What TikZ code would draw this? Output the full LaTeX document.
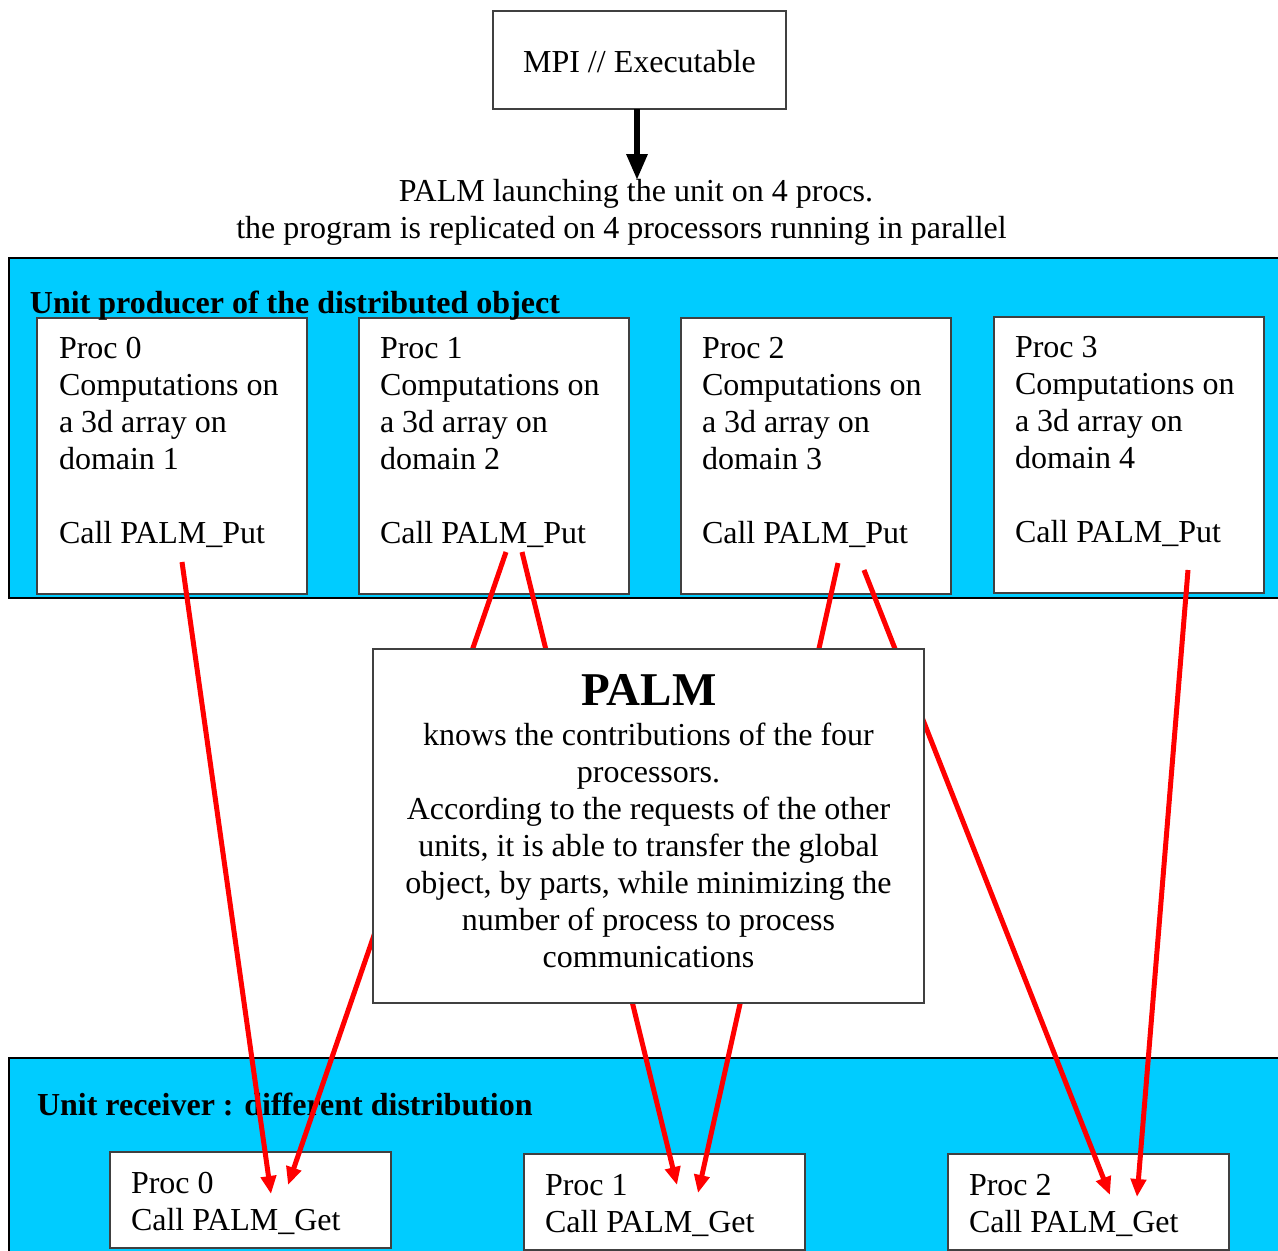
\documentclass[tikz,border=0pt]{standalone}
\usepackage{fontspec}
\setmainfont{Liberation Serif}
\usetikzlibrary{arrows.meta,calc}
\definecolor{bandblue}{HTML}{00CCFF}
\definecolor{boxedge}{HTML}{404040}
\begin{document}
\begin{tikzpicture}[x=1pt,y=-1pt,
  every node/.style={inner sep=0pt,outer sep=0pt},
  body/.style={font=\fontsize{32}{37}\selectfont},
  bodybf/.style={font=\fontsize{32}{37}\selectfont\bfseries},
  txt/.style={body,align=left,anchor=north west},
  band/.style={draw=black,line width=2pt,fill=bandblue,anchor=north west},
  whitebox/.style={draw=boxedge,line width=1.5pt,fill=white,anchor=north west},
  putbox/.style={whitebox,minimum width=270pt,minimum height=276pt},
  getbox/.style={whitebox,minimum width=281pt,minimum height=96pt},
  conn/.style={draw=red,line width=5pt,-{Triangle[length=18pt,width=15pt]}},
  launch/.style={draw=black,line width=6pt,-{Triangle[length=26pt,width=20pt]}}]
\useasboundingbox (0,0) rectangle (1278,1251);
\clip (0,0) rectangle (1278,1251);
\fill[white] (0,0) rectangle (1278,1251);

% executable and launch text
\node[whitebox,minimum width=293pt,minimum height=98pt,body,text height=24pt,text depth=0pt] (mpi) at (493,11) {MPI // Executable};
\node[body,anchor=base] (launch1) at (636,201) {PALM launching the unit on 4 procs.};
\node[body,anchor=base] (launch2) at (621.5,238) {the program is replicated on 4 processors running in parallel};
\draw[launch] (mpi.south -| 637,0) -- (637,180);

% producer unit
\node[band,minimum width=1300pt,minimum height=340pt] (prodband) at (9,258) {};
\node[putbox] (p0) at (37,318) {};
\node[putbox] (p1) at (359,318) {};
\node[putbox] (p2) at (681,318) {};
\node[putbox] (p3) at (994,317) {};
\node[bodybf,anchor=base west] (prodtitle) at (30,313) {Unit producer of the distributed object};
\node[txt] (p0t) at (59,337) {Proc 0\\Computations on\\a 3d array on\\domain 1\\[37pt]Call PALM\_Put};
\node[txt] (p1t) at (380,337) {Proc 1\\Computations on\\a 3d array on\\domain 2\\[37pt]Call PALM\_Put};
\node[txt] (p2t) at (702,337) {Proc 2\\Computations on\\a 3d array on\\domain 3\\[37pt]Call PALM\_Put};
\node[txt] (p3t) at (1015,336) {Proc 3\\Computations on\\a 3d array on\\domain 4\\[37pt]Call PALM\_Put};

% receiver unit
\node[band,minimum width=1300pt,minimum height=220pt] (recband) at (9,1058) {};
\node[getbox] (g0) at (110,1152) {};
\node[getbox] (g1) at (524,1154) {};
\node[getbox] (g2) at (948,1154) {};
\node[bodybf,anchor=base west] (rectitle) at (37,1115) {Unit receiver : different distribution};
\node[txt] (g0t) at (131,1172) {Proc 0\\Call PALM\_Get};
\node[txt] (g1t) at (545,1174) {Proc 1\\Call PALM\_Get};
\node[txt] (g2t) at (969,1174) {Proc 2\\Call PALM\_Get};

% transfer end points
\coordinate (put0) at (182,562);
\coordinate (put1a) at (506,552);
\coordinate (put1b) at (522,552);
\coordinate (put2a) at (838,563);
\coordinate (put2b) at (864,570);
\coordinate (put3) at (1188,570);
\coordinate (get0a) at (271,1194);
\coordinate (get0b) at (288,1185);
\coordinate (get1a) at (677,1185);
\coordinate (get1b) at (698,1193);
\coordinate (get2a) at (1110,1195);
\coordinate (get2b) at (1137,1197);

\draw[conn] (put0) -- (get0a);
\draw[conn] (put1a) -- (get0b);
\draw[conn] (put1b) -- (get1a);
\draw[conn] (put2a) -- (get1b);
\draw[conn] (put2b) -- (get2a);
\draw[conn] (put3) -- (get2b);

% PALM in the middle, over the transfers
\node[whitebox,minimum width=551pt,minimum height=354pt] (palm) at (373,649) {};
\node[font=\fontsize{47}{54}\selectfont\bfseries,anchor=base] (palmtitle) at (649,705) {PALM};
\node[body,align=center,anchor=north] (palmtext) at (648.5,723) {knows the contributions of the four\\processors.\\According to the requests of the other\\units, it is able to transfer the global\\object, by parts, while minimizing the\\number of process to process\\communications};
\end{tikzpicture}
\end{document}
